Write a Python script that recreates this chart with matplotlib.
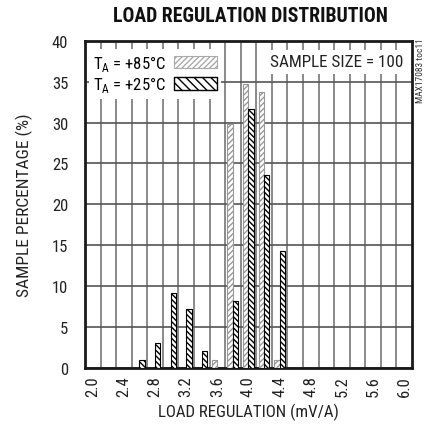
import matplotlib.pyplot as plt
from matplotlib.patches import Patch
import numpy as np

plt.rcParams['font.family'] = ['Roboto Condensed', 'Liberation Sans', 'DejaVu Sans']
plt.rcParams['mathtext.fontset'] = 'custom'
plt.rcParams['mathtext.rm'] = 'Roboto Condensed'

# bin centres (mV/A) and sample percentages
bins = [2.6, 2.8, 3.0, 3.2, 3.4, 3.6, 3.8, 4.0, 4.2, 4.4]
pct_85c = [0, 0, 0, 0, 0, 1.0, 29.8, 34.7, 33.7, 1.0]
pct_25c = [1.0, 3.1, 9.2, 7.2, 2.1, 0, 8.2, 31.7, 23.6, 14.3]

xtick_vals = [2.0, 2.4, 2.8, 3.2, 3.6, 4.0, 4.4, 4.8, 5.2, 5.6, 6.0]
xtick_labels = ['2.0', '2.4', '2.8', '3.2', '3.6', '4.0', '4.4', '4.8', '5.2', '5.6', '6.0']
ytick_vals = [0, 5, 10, 15, 20, 25, 30, 35, 40]

fig = plt.figure(figsize=(4.26, 4.31), dpi=100)
ax = fig.add_axes([0.1995, 0.1439, 0.7675, 0.7594])

bins = np.array(bins)
w = 0.07
m85 = np.array(pct_85c) > 0
m25 = np.array(pct_25c) > 0
ax.bar(bins[m85] - w, np.array(pct_85c)[m85], width=w, align='edge',
       facecolor='white', edgecolor='#999999', hatch='//////', linewidth=0.8, zorder=3)
ax.bar(bins[m25], np.array(pct_25c)[m25], width=w, align='edge',
       facecolor='white', edgecolor='black', hatch='\\\\\\\\\\\\', linewidth=0.8, zorder=3)

ax.set_xlim(1.9, 6.1)
ax.set_ylim(0, 40)
ax.set_xticks(xtick_vals)
ax.set_xticklabels(xtick_labels, rotation=90)
ax.set_xticks(np.arange(2.1, 5.95, 0.2), minor=True)
ax.set_yticks(ytick_vals)
ax.tick_params(axis='both', which='both', length=0, labelsize=12, colors='#222222')
ax.tick_params(axis='x', pad=5)
ax.tick_params(axis='y', pad=12)

ax.grid(False)
ax.grid(True, which='minor', axis='x', color='#8a8a8a', linewidth=1.4)
ax.grid(True, which='major', axis='y', color='#555555', linewidth=1.2)
ax.set_axisbelow(True)

for s in ax.spines.values():
    s.set_linewidth(2.0)
    s.set_color('#1a1a1a')

ax.set_xlabel('LOAD REGULATION (mV/A)', fontsize=12.2, labelpad=5, color='#222222')
ax.set_ylabel('SAMPLE PERCENTAGE (%)', fontsize=12.5, labelpad=14, color='#222222')
fig.text(0.587, 0.962, 'LOAD REGULATION DISTRIBUTION', ha='center', va='center',
         fontsize=14.2, fontweight='black', color='#111111')

handles = [Patch(facecolor='white', edgecolor='#aaaaaa', hatch='//////', linewidth=0.8),
           Patch(facecolor='white', edgecolor='black', hatch='\\\\\\\\', linewidth=1.0)]
labels = [r'T$_{\mathregular{A}}$ = +85°C', r'T$_{\mathregular{A}}$ = +25°C']
leg = ax.legend(handles, labels, loc='upper left', bbox_to_anchor=(0.012, 0.975),
                borderaxespad=0, markerfirst=False, handlelength=2.6, handleheight=0.75,
                handletextpad=0.45, labelspacing=0.08, borderpad=0.25, fontsize=12,
                frameon=True, fancybox=False)
leg.get_frame().set_edgecolor('none')
leg.get_frame().set_facecolor('white')
leg.get_frame().set_alpha(1)
leg.set_zorder(5)

ax.text(0.975, 0.935, 'SAMPLE SIZE = 100', transform=ax.transAxes, ha='right', va='center',
        fontsize=12.3, color='#222222', zorder=5,
        bbox=dict(facecolor='white', edgecolor='none', pad=3))

fig.text(0.977, 0.912, 'MAX17083 toc11', rotation=90, ha='left', va='top',
         fontsize=6.8, color='#333333')

fig.savefig('out.png', dpi=100)
